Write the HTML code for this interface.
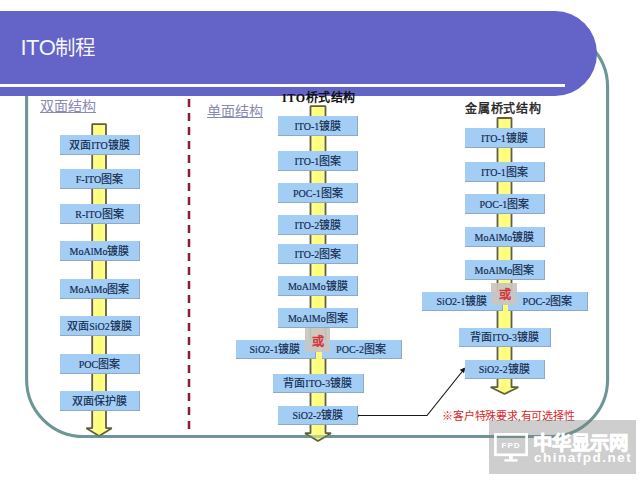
<!DOCTYPE html>
<html lang="zh-CN"><head><meta charset="utf-8">
<style>
html,body{margin:0;padding:0;width:640px;height:480px;overflow:hidden;background:#ffffff}
.b{position:absolute;box-sizing:border-box;background:#a3cdf5;border-right:1px solid #90a8c2;border-bottom:1px solid #90a8c2;text-align:center;font-family:"Liberation Serif",serif;font-size:11px;color:#10284a;white-space:nowrap;font-weight:400;-webkit-text-stroke:0.15px #10284a}
.t{position:absolute;white-space:nowrap}
.l{font-size:10px}
svg{position:absolute;left:0;top:0}
</style></head><body>
<svg width="640" height="480" viewBox="0 0 640 480">
<defs><linearGradient id="yg" x1="0" x2="1" y1="0" y2="0"><stop offset="0" stop-color="#ffffd0"/><stop offset="0.5" stop-color="#fcfc72"/><stop offset="1" stop-color="#ffffc0"/></linearGradient></defs>
<rect x="26.6" y="30" width="581" height="406.5" rx="57" ry="57" fill="none" stroke="#6e9696" stroke-width="3.1"/>
<path d="M0,11 L555,11 A42,42.5 0 0 1 597,53.5 A42,42.5 0 0 1 555,96 L0,96 Z" fill="#6464c8"/>
<rect x="0" y="84" width="565" height="3" fill="#fafcff"/>
<line x1="189" y1="99" x2="189" y2="430" stroke="#8a1c36" stroke-width="2.5" stroke-dasharray="8 6"/>
<path d="M92.19999999999999,124.2 L106.0,124.2 L106.0,428.2 L111.8,428.2 L99.1,436 L86.39999999999999,428.2 L92.19999999999999,428.2 Z" fill="url(#yg)" stroke="#62603a" stroke-width="1.8" stroke-linejoin="bevel"/><path d="M310.5,106.2 L325.5,106.2 L325.5,433.2 L331.0,433.2 L318,441 L305.0,433.2 L310.5,433.2 Z" fill="url(#yg)" stroke="#62603a" stroke-width="1.8" stroke-linejoin="bevel"/><path d="M497.5,118 L511.5,118 L511.5,387.2 L518.3,387.2 L504.5,394 L490.7,387.2 L497.5,387.2 Z" fill="url(#yg)" stroke="#62603a" stroke-width="1.8" stroke-linejoin="bevel"/>
<line x1="80" y1="436.5" x2="120" y2="436.5" stroke="#6e9696" stroke-width="3.1" stroke-opacity="0.45"/>
<line x1="300" y1="436.5" x2="340" y2="436.5" stroke="#6e9696" stroke-width="3.1" stroke-opacity="0.45"/>
<path d="M357.5,415.5 L427,415.5 L463,370.5" fill="none" stroke="#1a1a1a" stroke-width="1.2"/>
<circle cx="357.5" cy="415.5" r="1.5" fill="#222"/>
<path d="M464.7,368.1 L463.8,372.6 L460.4,369.9 Z" fill="#111" stroke="#111" stroke-width="0.8"/>
</svg>
<div class="t" style="left:20.5px;top:31px;font-family:'Liberation Sans',sans-serif;font-size:22px;color:rgba(255,255,255,0.95);font-weight:300;letter-spacing:-0.5px">ITO<span style="font-size:20.5px;letter-spacing:0">制程</span></div>
<div class="t" style="left:40px;top:95px;font-family:'Liberation Serif',serif;font-size:14px;color:#8a8ab4;text-decoration:underline">双面结构</div>
<div class="t" style="left:207px;top:100px;font-family:'Liberation Serif',serif;font-size:14px;color:#8a8ab4;text-decoration:underline">单面结构</div>
<div class="t" style="left:282px;top:88px;font-family:'Liberation Serif',serif;font-size:12px;color:#111;font-weight:700;letter-spacing:0.6px">ITO桥式结构</div>
<div class="t" style="left:465px;top:98.5px;font-family:'Liberation Serif',serif;font-size:12px;color:#222;font-weight:400;letter-spacing:0.8px;-webkit-text-stroke:0.4px #222">金属桥式结构</div>
<div class="b" style="left:60px;top:135px;width:80px;height:20px;line-height:20px">双面<span class="l">ITO</span>镀膜</div><div class="b" style="left:60px;top:169px;width:80px;height:20px;line-height:20px"><span class="l">F-ITO</span>图案</div><div class="b" style="left:60px;top:204px;width:80px;height:20px;line-height:20px"><span class="l">R-ITO</span>图案</div><div class="b" style="left:60px;top:241px;width:80px;height:20px;line-height:20px"><span class="l">MoAlMo</span>镀膜</div><div class="b" style="left:60px;top:279px;width:80px;height:20px;line-height:20px"><span class="l">MoAlMo</span>图案</div><div class="b" style="left:60px;top:316px;width:80px;height:20px;line-height:20px">双面<span class="l">SiO2</span>镀膜</div><div class="b" style="left:60px;top:353.5px;width:80px;height:20px;line-height:20px"><span class="l">POC</span>图案</div><div class="b" style="left:60px;top:391px;width:80px;height:20px;line-height:20px">双面保护膜</div><div class="b" style="left:278.2px;top:116.3px;width:80.3px;height:20px;line-height:20px"><span class="l">ITO-1</span>镀膜</div><div class="b" style="left:278.2px;top:151px;width:80.3px;height:20px;line-height:20px"><span class="l">ITO-1</span>图案</div><div class="b" style="left:278.2px;top:182.75px;width:80.3px;height:20px;line-height:20px"><span class="l">POC-1</span>图案</div><div class="b" style="left:278.2px;top:214.6px;width:80.3px;height:20px;line-height:20px"><span class="l">ITO-2</span>镀膜</div><div class="b" style="left:278.2px;top:244.1px;width:80.3px;height:20px;line-height:20px"><span class="l">ITO-2</span>图案</div><div class="b" style="left:278.2px;top:275.6px;width:80.3px;height:20px;line-height:20px"><span class="l">MoAlMo</span>镀膜</div><div class="b" style="left:278.2px;top:307.9px;width:80.3px;height:20px;line-height:20px"><span class="l">MoAlMo</span>图案</div><div class="b" style="left:235.5px;top:340.2px;width:80px;height:19.3px;line-height:19.3px"><span class="l">SiO2-1</span>镀膜</div><div class="b" style="left:321.5px;top:340.2px;width:80px;height:19.3px;line-height:19.3px"><span class="l">POC-2</span>图案</div><div class="b" style="left:273px;top:373.5px;width:90.5px;height:19.3px;line-height:19.3px">背面<span class="l">ITO-3</span>镀膜</div><div class="b" style="left:278.2px;top:405.6px;width:80.3px;height:19.3px;line-height:19.3px"><span class="l">SiO2-2</span>镀膜</div><div class="b" style="left:464.6px;top:128.1px;width:80.7px;height:20px;line-height:20px"><span class="l">ITO-1</span>镀膜</div><div class="b" style="left:464.6px;top:162.25px;width:80.7px;height:20px;line-height:20px"><span class="l">ITO-1</span>图案</div><div class="b" style="left:464.6px;top:194.3px;width:80.7px;height:20px;line-height:20px"><span class="l">POC-1</span>图案</div><div class="b" style="left:464.6px;top:226.6px;width:80.7px;height:20px;line-height:20px"><span class="l">MoAlMo</span>镀膜</div><div class="b" style="left:464.6px;top:260.2px;width:80.7px;height:20px;line-height:20px"><span class="l">MoAlMo</span>图案</div><div class="b" style="left:422px;top:292.2px;width:81px;height:19.3px;line-height:19.3px"><span class="l">SiO2-1</span>镀膜</div><div class="b" style="left:508px;top:292.2px;width:80px;height:19.3px;line-height:19.3px"><span class="l">POC-2</span>图案</div><div class="b" style="left:459.4px;top:327.8px;width:91.3px;height:19.3px;line-height:19.3px">背面<span class="l">ITO-3</span>镀膜</div><div class="b" style="left:464.6px;top:359.7px;width:80.3px;height:19.3px;line-height:19.3px"><span class="l">SiO2-2</span>镀膜</div>
<div style="position:absolute;left:305px;top:328px;width:24.5px;height:24px;background:rgba(200,197,194,0.93)"></div>
<div class="t" style="left:311.8px;top:332.2px;font-family:'Liberation Serif',serif;font-size:12.2px;color:#d83038;font-weight:400;-webkit-text-stroke:0.55px #d83038">或</div>
<div style="position:absolute;left:491.3px;top:282.5px;width:25.3px;height:22px;background:rgba(200,197,194,0.93)"></div>
<div class="t" style="left:498.5px;top:284.5px;font-family:'Liberation Serif',serif;font-size:12.2px;color:#d83038;font-weight:400;-webkit-text-stroke:0.55px #d83038">或</div>
<div class="t" style="left:442px;top:407px;font-family:'Liberation Serif',serif;font-size:11px;color:#d82828;letter-spacing:-0.15px">※客户特殊要求,有可选择性</div>
<div style="position:absolute;left:489px;top:420px;width:147px;height:54px;background:rgba(128,128,128,0.39)"></div>
<svg width="640" height="480" viewBox="0 0 640 480">
<rect x="495.4" y="434.4" width="31.2" height="20.4" fill="none" stroke="#fff" stroke-width="2.7"/>
<rect x="509" y="455.5" width="3.8" height="4" fill="#fff"/>
<rect x="504.4" y="459.2" width="13.1" height="2.4" fill="#fff"/>
<text x="511" y="448" font-family="Liberation Sans" font-size="8" font-weight="700" fill="#fff" text-anchor="middle" letter-spacing="1">FPD</text>
</svg>
<div class="t" style="left:533px;top:426.5px;font-family:'Liberation Sans',sans-serif;font-size:19.4px;color:#fff;font-weight:900;letter-spacing:0px;-webkit-text-stroke:0.8px #fff">中华显示网</div>
<div class="t" style="left:534px;top:450px;font-family:'Liberation Sans',sans-serif;font-size:13.5px;color:#fff;font-weight:700;letter-spacing:1.5px">chinafpd.net</div>
</body></html>
